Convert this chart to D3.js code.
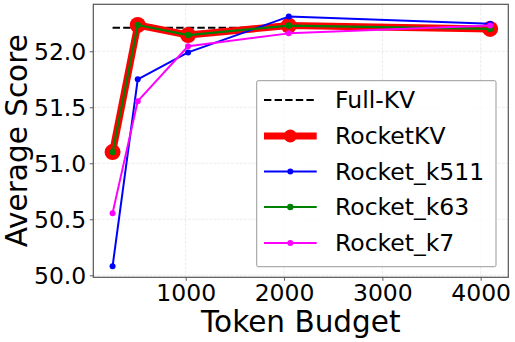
<!DOCTYPE html>
<html>
<head>
<meta charset="utf-8">
<script src="https://cdn.jsdelivr.net/npm/d3@7/dist/d3.min.js"></script>
<style>
  html, body { margin: 0; padding: 0; background: #fff; }
  svg { display: block; }
  text { font-family: "DejaVu Sans", sans-serif; fill: #000; }
</style>
</head>
<body>
<svg id="chart" width="515" height="342"></svg>
<script>
const budgets = [256, 512, 1024, 2048, 4096];
const fullKV = 52.21;
const rocketKV = [51.10, 52.235, 52.145, 52.23, 52.20];
const rocketK511 = [50.08, 51.75, 51.99, 52.31, 52.245];
const rocketK63 = [51.10, 52.235, 52.145, 52.23, 52.20];
const rocketK7 = [50.555, 51.555, 52.045, 52.16, 52.23];
const xTicks = [1000, 2000, 3000, 4000];
const yTicks = [50.0, 50.5, 51.0, 51.5, 52.0];
const seriesNames = ["Full-KV", "RocketKV", "Rocket_k511", "Rocket_k63", "Rocket_k7"];

const svg = d3.select("#chart");
const L = 93.3, R = 508.3, T = 4.3, B = 277.3;
const x = d3.scaleLinear().domain([60, 4281]).range([L, R]);
const y = d3.scaleLinear().domain([49.982, 52.4196]).range([B, T]);

// grid
const grid = svg.append("g");
grid.selectAll("line.gx").data(xTicks).enter().append("line")
  .attr("x1", d => x(d)).attr("x2", d => x(d)).attr("y1", T).attr("y2", B)
  .attr("stroke", "#b0b0b0").attr("stroke-opacity", 0.3).attr("stroke-width", 0.8)
  .attr("stroke-dasharray", "3,1.3");
grid.selectAll("line.gy").data(yTicks).enter().append("line")
  .attr("x1", L).attr("x2", R).attr("y1", d => y(d)).attr("y2", d => y(d))
  .attr("stroke", "#b0b0b0").attr("stroke-opacity", 0.3).attr("stroke-width", 0.8)
  .attr("stroke-dasharray", "3,1.3");

// axes
const xAxis = d3.axisBottom(x).tickValues(xTicks).tickFormat(d3.format("d")).tickSizeInner(3.5).tickSizeOuter(0).tickPadding(3.5);
const yAxis = d3.axisLeft(y).tickValues(yTicks).tickFormat(d3.format(".1f")).tickSizeInner(3.5).tickSizeOuter(0).tickPadding(3.5);
const gx = svg.append("g").attr("transform", `translate(0,${B})`).call(xAxis);
const gy = svg.append("g").attr("transform", `translate(${L},0)`).call(yAxis);
[gx, gy].forEach(g => {
  g.select(".domain").remove();
  g.selectAll(".tick line").attr("stroke", "#333").attr("stroke-width", 0.8);
  g.selectAll(".tick text").style("font-family", "DejaVu Sans").style("font-size", "23.5px").attr("fill", "#000");
});
gx.selectAll(".tick text").attr("dy", null).attr("y", 23.5);
gy.selectAll(".tick text").attr("dy", "0.36em");

const lineGen = vals => d3.line().x((d, i) => x(budgets[i])).y(d => y(d))(vals);

// Full-KV
svg.append("line")
  .attr("x1", x(budgets[0])).attr("x2", x(budgets[budgets.length - 1]))
  .attr("y1", y(fullKV)).attr("y2", y(fullKV))
  .attr("stroke", "#000").attr("stroke-width", 2).attr("stroke-dasharray", "7.4,3.2");

function drawSeries(vals, color, lw, r) {
  svg.append("path").attr("d", lineGen(vals)).attr("fill", "none")
    .attr("stroke", color).attr("stroke-width", lw).attr("stroke-linejoin", "round").attr("stroke-linecap", "butt");
  svg.append("g").selectAll("circle").data(vals).enter().append("circle")
    .attr("cx", (d, i) => x(budgets[i])).attr("cy", d => y(d)).attr("r", r).attr("fill", color);
}
drawSeries(rocketKV, "#ff0000", 7, 8);
drawSeries(rocketK511, "#0000ff", 2, 3);
drawSeries(rocketK63, "#008000", 2.2, 3.2);
drawSeries(rocketK7, "#ff00ff", 2, 3);

// spines
svg.append("rect").attr("x", L).attr("y", T).attr("width", R - L).attr("height", B - T)
  .attr("fill", "none").attr("stroke", "#555").attr("stroke-width", 1.2);

// axis labels
svg.append("text").attr("x", (L + R) / 2).attr("y", 332).attr("text-anchor", "middle")
  .style("font-size", "29.5px").text("Token Budget");
svg.append("text").attr("transform", `translate(27,${(T + B) / 2}) rotate(-90)`).attr("text-anchor", "middle")
  .style("font-size", "29.5px").text("Average Score");

// legend
const lg = svg.append("g");
lg.append("rect").attr("x", 256.7).attr("y", 80.7).attr("width", 239.3).attr("height", 186)
  .attr("fill", "#fff").attr("fill-opacity", 0.8).attr("stroke", "#999").attr("stroke-width", 1).attr("rx", 1.5);
const rowY = [100, 136, 171.5, 207, 243];
const legendStyles = [
  {color: "#000", lw: 2, r: 0, dash: "7.4,3.2"},
  {color: "#ff0000", lw: 7, r: 6.5},
  {color: "#0000ff", lw: 2, r: 3},
  {color: "#008000", lw: 2.2, r: 3.2},
  {color: "#ff00ff", lw: 2, r: 3}
];
seriesNames.forEach((name, i) => {
  const s = legendStyles[i];
  lg.append("line").attr("x1", 264).attr("x2", 316.7).attr("y1", rowY[i]).attr("y2", rowY[i])
    .attr("stroke", s.color).attr("stroke-width", s.lw).attr("stroke-dasharray", s.dash || null);
  if (s.r > 0) lg.append("circle").attr("cx", 290.3).attr("cy", rowY[i]).attr("r", s.r).attr("fill", s.color);
  lg.append("text").attr("x", 335).attr("y", rowY[i]).attr("dy", "0.36em")
    .style("font-size", "23.5px").text(name);
});
</script>
</body>
</html>
